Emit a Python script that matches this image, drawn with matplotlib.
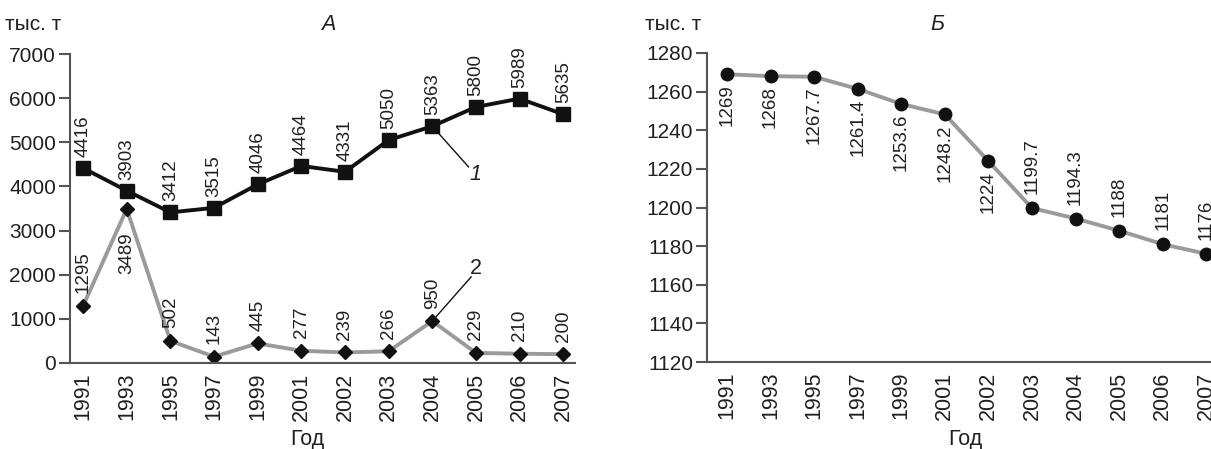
import numpy as np
import matplotlib
matplotlib.use("Agg")
import matplotlib.pyplot as plt

plt.rcParams['font.family'] = ['Liberation Sans', 'DejaVu Sans']

# data
years = ['1991', '1993', '1995', '1997', '1999', '2001', '2002', '2003', '2004', '2005', '2006', '2007']
series_1 = [4416, 3903, 3412, 3515, 4046, 4464, 4331, 5050, 5363, 5800, 5989, 5635]
series_2 = [1295, 3489, 502, 143, 445, 277, 239, 266, 950, 229, 210, 200]
series_b = [1269, 1268, 1267.7, 1261.4, 1253.6, 1248.2, 1224, 1199.7, 1194.3, 1188, 1181, 1176]
labels_b = ['1269', '1268', '1267.7', '1261.4', '1253.6', '1248.2', '1224', '1199.7', '1194.3', '1188', '1181', '1176']

W, H = 1211, 449
txt = '#231f20'
spine_col = '#555555'
gray = '#9a9a9a'

fig = plt.figure(figsize=(W / 100, H / 100), dpi=100)

def px_axes(x0, y0, x1, y1):
    # pixel box (top-left origin) -> figure fraction
    return fig.add_axes([x0 / W, 1 - y1 / H, (x1 - x0) / W, (y1 - y0) / H])

def style(ax):
    for s in ['top', 'right']:
        ax.spines[s].set_visible(False)
    for s in ['left', 'bottom']:
        ax.spines[s].set_color(spine_col)
        ax.spines[s].set_linewidth(1.5)
    ax.tick_params(axis='y', length=8, width=1.5, color=spine_col, pad=2,
                   labelsize=15, labelcolor=txt)
    ax.tick_params(axis='x', length=0, pad=7, labelsize=15.5, labelcolor=txt,
                   labelrotation=90)
    ax.set_facecolor('none')

x = np.arange(len(years))

# ---- panel A ----
axA = px_axes(70, 54, 575, 363)
axA.plot(x, series_2, color=gray, lw=2.8, marker='D', ms=7.5,
         mfc='#111111', mec='#111111', zorder=2)
axA.plot(x, series_1, color='#111111', lw=2.8, marker='s', ms=9.5,
         mfc='#111111', mec='#111111', zorder=3)
axA.set_xlim(-0.3, 11.27)
axA.set_ylim(0, 7000)
axA.set_yticks(range(0, 7001, 1000))
axA.set_xticks(x)
axA.set_xticklabels(years)
style(axA)

for i, v in enumerate(series_1):
    axA.annotate(str(v), (i, v), xytext=(0, 8), textcoords='offset points',
                 rotation=90, ha='center', va='bottom', fontsize=13.5, color=txt)
for i, v in enumerate(series_2):
    if i == 1:
        axA.annotate(str(v), (i, v), xytext=(0, -17), textcoords='offset points',
                     rotation=90, ha='center', va='top', fontsize=13.5, color=txt)
    else:
        axA.annotate(str(v), (i, v), xytext=(0, 9), textcoords='offset points',
                     rotation=90, ha='center', va='bottom', fontsize=13.5, color=txt)

# leader lines
axA.plot([8, 8.83], [series_1[8], 4444], color='#111111', lw=1.0, zorder=1)
axA.text(9.0, 4263, '1', fontsize=15.5, style='italic', ha='center', va='center', color=txt)
axA.plot([8, 8.89], [series_2[8], 1950], color='#111111', lw=1.0, zorder=1)
axA.text(9.0, 2150, '2', fontsize=15.5, ha='center', va='center', color=txt)

# ---- panel Б ----
axB = px_axes(707, 53, 1211, 362)
axB.plot(x, series_b, color=gray, lw=2.8, marker='o', ms=9,
         mfc='#111111', mec='#111111', zorder=3, clip_on=False)
axB.set_xlim(-0.46, 11.11)
axB.set_ylim(1120, 1280)
axB.set_yticks(range(1120, 1281, 20))
axB.set_xticks(x)
axB.set_xticklabels(years)
style(axB)

for i, (v, lab) in enumerate(zip(series_b, labels_b)):
    if i <= 6:
        axB.annotate(lab, (i, v), xytext=(0, -7), textcoords='offset points',
                     rotation=90, ha='center', va='top', fontsize=13.5, color=txt)
    else:
        axB.annotate(lab, (i, v), xytext=(0, 10), textcoords='offset points',
                     rotation=90, ha='center', va='bottom', fontsize=13.5, color=txt,
                     annotation_clip=False)

# titles and axis captions
def ftext(px, py, s, **kw):
    fig.text(px / W, 1 - py / H, s, color=txt, **kw)

ftext(5, 25, 'тыс. т', fontsize=15, ha='left', va='center')
ftext(328, 25, 'А', fontsize=15.5, style='italic', ha='center', va='center')
ftext(307, 440, 'Год', fontsize=15.5, ha='center', va='center')
ftext(645, 25, 'тыс. т', fontsize=15, ha='left', va='center')
ftext(937, 25, 'Б', fontsize=15.5, style='italic', ha='center', va='center')
ftext(965, 440, 'Год', fontsize=15.5, ha='center', va='center')

fig.savefig('out.png', dpi=100)
